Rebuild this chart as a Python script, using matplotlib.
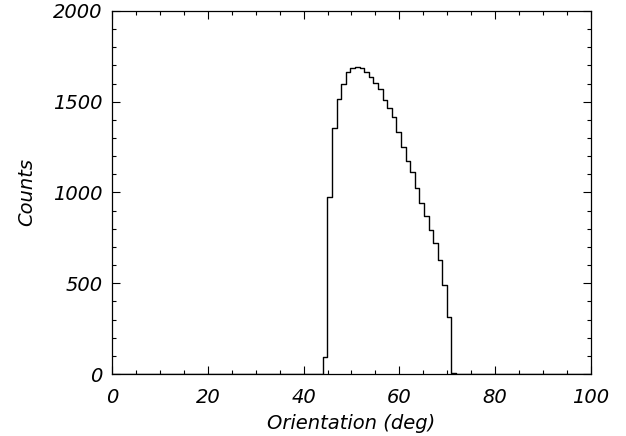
import numpy as np
import matplotlib.pyplot as plt

# histogram of orientation
bin_start = 44.0
bin_width = 0.96
counts = [95, 977, 1357, 1514, 1598, 1662, 1685, 1692, 1685, 1666,
          1638, 1605, 1568, 1510, 1464, 1414, 1332, 1252, 1174, 1115,
          1026, 944, 872, 794, 723, 629, 490, 312, 6]

x_ticks = [0, 20, 40, 60, 80, 100]
y_ticks = [0, 500, 1000, 1500, 2000]

edges = bin_start + bin_width * np.arange(len(counts) + 1)
xs = np.concatenate([[0], edges, [100]])
ys = np.concatenate([[0], counts, [0, 0]])

fig = plt.figure(figsize=(6.26, 4.36), dpi=100)
ax = fig.add_axes([0.179, 0.142, 0.765, 0.833])
ax.step(xs, ys, where='post', color='black', lw=1.0)

ax.set_xlim(0, 100)
ax.set_ylim(0, 2000)
ax.set_xticks(x_ticks)
ax.set_yticks(y_ticks)
ax.set_xticks(np.arange(0, 101, 5), minor=True)
ax.set_yticks(np.arange(0, 2001, 100), minor=True)
ax.tick_params(which='both', direction='in', top=True, right=True, width=0.8)
ax.tick_params(which='major', length=6)
ax.tick_params(axis='x', which='major', pad=10)
ax.tick_params(axis='y', which='major', pad=7)
ax.tick_params(which='minor', length=3)
for s in ax.spines.values():
    s.set_linewidth(0.9)

font = dict(family='DejaVu Sans', style='italic', size=14)
for lab in ax.get_xticklabels() + ax.get_yticklabels():
    lab.set_fontfamily('DejaVu Sans')
    lab.set_fontstyle('italic')
    lab.set_fontsize(14)
ax.set_xlabel('Orientation (deg)', fontdict=font, labelpad=5)
ax.set_ylabel('Counts', fontdict=font, labelpad=12)

fig.savefig('out.png', dpi=100)
